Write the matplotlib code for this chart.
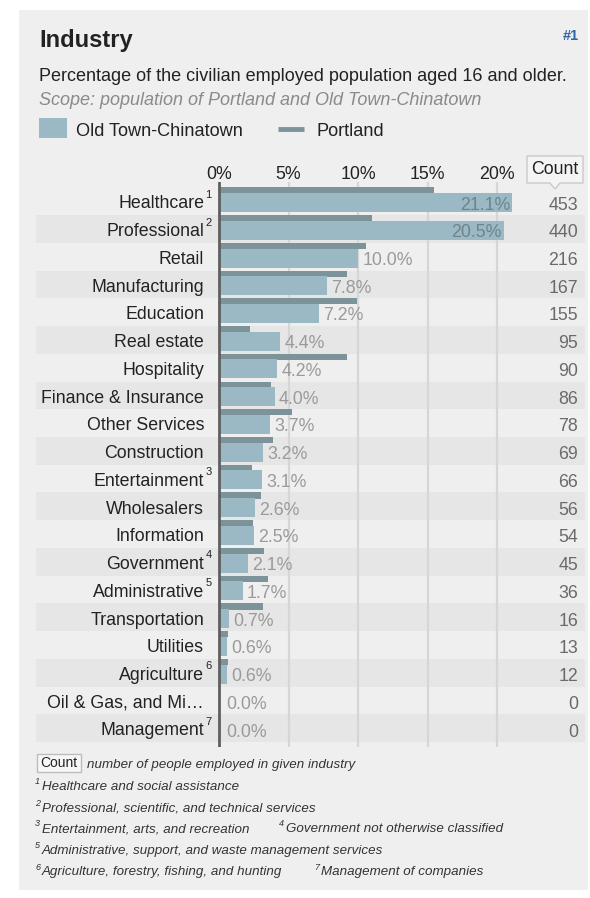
import matplotlib
matplotlib.use("Agg")
import matplotlib.pyplot as plt
from matplotlib.patches import Rectangle, Polygon

plt.rcParams['font.family'] = ['Liberation Sans', 'DejaVu Sans']

# ---------------- data ----------------
categories = ["Healthcare", "Professional", "Retail", "Manufacturing", "Education",
              "Real estate", "Hospitality", "Finance & Insurance", "Other Services",
              "Construction", "Entertainment", "Wholesalers", "Information",
              "Government", "Administrative", "Transportation", "Utilities",
              "Agriculture", "Oil & Gas, and Mi\u2026", "Management"]
footnote_marks = ["1", "2", "", "", "", "", "", "", "", "", "3", "", "", "4", "5",
                  "", "", "6", "", "7"]
oldtown_pct = [21.1, 20.5, 10.0, 7.8, 7.2, 4.4, 4.2, 4.0, 3.7, 3.2, 3.1, 2.6, 2.5,
               2.1, 1.7, 0.7, 0.6, 0.6, 0.0, 0.0]
portland_pct = [15.5, 11.0, 10.55, 9.2, 9.9, 2.2, 9.2, 3.75, 5.25, 3.85, 2.35, 3.05,
                2.45, 3.25, 3.55, 3.15, 0.65, 0.65, 0.0, 0.0]
counts = [453, 440, 216, 167, 155, 95, 90, 86, 78, 69, 66, 56, 54, 45, 36, 16, 13,
          12, 0, 0]
x_ticks = [0, 5, 10, 15, 20]
x_tick_labels = ["0%", "5%", "10%", "15%", "20%"]
footnotes = [("1", "Healthcare and social assistance"),
             ("2", "Professional, scientific, and technical services"),
             ("3", "Entertainment, arts, and recreation"),
             ("4", "Government not otherwise classified"),
             ("5", "Administrative, support, and waste management services"),
             ("6", "Agriculture, forestry, fishing, and hunting"),
             ("7", "Management of companies")]

# ---------------- style ----------------
W, H = 590, 898
BG = "#efefef"
BAND = "#e6e6e6"
OT_COLOR = "#9bb9c4"
PDX_COLOR = "#7b9399"
TXT = "#222222"
ROWFS = 12.8

fig = plt.figure(figsize=(W / 100, H / 100), dpi=100)
fig.patch.set_facecolor("white")

# overlay axes in pixel coordinates for panel / titles / footnotes
bg = fig.add_axes([0, 0, 1, 1])
bg.set_xlim(0, W)
bg.set_ylim(H, 0)
bg.axis("off")
bg.add_patch(Rectangle((19, 10), 569, 880, facecolor=BG, edgecolor="none", zorder=0))

bg.text(39, 46.5, "Industry", fontsize=17, fontweight="bold", color=TXT, va="baseline")
bg.text(579, 40, "#1", fontsize=10.5, fontweight="bold", color="#2f66a8",
        va="baseline", ha="right")
bg.text(39, 81, "Percentage of the civilian employed population aged 16 and older.",
        fontsize=13, color=TXT, va="baseline")
bg.text(39, 105, "Scope: population of Portland and Old Town-Chinatown",
        fontsize=13, color="#8a8a8a", style="italic", va="baseline")

# legend
bg.add_patch(Rectangle((39, 118), 28, 20, facecolor=OT_COLOR, edgecolor="none"))
bg.text(76, 136, "Old Town-Chinatown", fontsize=13.1, color=TXT, va="baseline")
bg.plot([278, 304], [129, 129], color=PDX_COLOR, lw=3.5, solid_capstyle="butt")
bg.text(316, 136, "Portland", fontsize=13.1, color=TXT, va="baseline")

# Count header callout
bg.add_patch(Polygon([(527, 156), (583, 156), (583, 183), (560, 183), (555, 189),
                      (550, 183), (527, 183)], closed=True, facecolor="#f4f4f4",
                     edgecolor="#c9c9c9", lw=1, zorder=2))
bg.text(555, 170, "Count", fontsize=ROWFS, color=TXT, ha="center", va="center", zorder=3)

# ---------------- chart axes ----------------
PX_PER_PCT = (497 - 219) / 20.0
ROW = 27.74
x0_px, x1_px = 36, 585
y0_px, y1_px = 182, 747
row0_center = 201.2

ax = fig.add_axes([x0_px / W, 1 - y1_px / H, (x1_px - x0_px) / W, (y1_px - y0_px) / H])
ax.set_facecolor("none")
ax.set_xlim((x0_px - 219) / PX_PER_PCT, (x1_px - 219) / PX_PER_PCT)
ax.set_ylim((y1_px - row0_center) / ROW, (y0_px - row0_center) / ROW)
for s in ax.spines.values():
    s.set_visible(False)
ax.set_yticks([])
ax.xaxis.tick_top()
ax.set_xticks(x_ticks, x_tick_labels)
ax.tick_params(axis="x", length=0, pad=-0.5, labelsize=ROWFS, labelcolor=TXT)

n = len(categories)
for i in range(n):
    if i % 2 == 1:
        ax.axhspan(i - 0.5, i + 0.5, color=BAND, lw=0, zorder=0)

for t in x_ticks[1:]:
    ax.axvline(t, color="#d6d6d6", lw=1.6, zorder=1)

ys = list(range(n))
ax.barh([y - 0.39 for y in ys], portland_pct, height=0.22, color=PDX_COLOR,
        lw=0, zorder=2)
ax.barh([y + 0.048 for y in ys], oldtown_pct, height=0.685, color=OT_COLOR,
        lw=0, zorder=3)
ax.axvline(0, color="#5f5f5f", lw=2, zorder=4)

lab_x = (204 - 219) / PX_PER_PCT
sup_x = (205.5 - 219) / PX_PER_PCT
cnt_x = (578 - 219) / PX_PER_PCT
for i, (cat, mark, v, c) in enumerate(zip(categories, footnote_marks, oldtown_pct, counts)):
    ax.text(lab_x, i + 0.26, cat, fontsize=ROWFS, color=TXT, ha="right", va="baseline")
    if mark:
        ax.text(sup_x, i - 0.12, mark, fontsize=8, color=TXT, ha="left", va="baseline")
    if v >= 15:
        ax.text(v - 0.15, i + 0.3, f"{v:.1f}%", fontsize=ROWFS, color="#6f838b",
                ha="right", va="baseline", zorder=5)
    else:
        ax.text(max(v, 0.2) + 0.3, i + 0.3, f"{v:.1f}%", fontsize=ROWFS,
                color="#9a9a9a", ha="left", va="baseline", zorder=5)
    ax.text(cnt_x, i + 0.3, f"{c}", fontsize=ROWFS, color="#6a6a6a", ha="right",
            va="baseline")

# ---------------- footnotes ----------------
FN = 9.6
bg.add_patch(Rectangle((37, 754), 44, 18, facecolor="#f7f7f7", edgecolor="#bdbdbd",
                       lw=1))
bg.text(59, 763, "Count", fontsize=10, color=TXT, ha="center", va="center")
bg.text(87, 768, "number of people employed in given industry", fontsize=FN,
        style="italic", color="#333333", va="baseline")

fn_pos = {"1": (40, 42, 790), "2": (40, 42, 811.5), "3": (40, 42, 832.5),
          "4": (284, 286, 832.5), "5": (40, 42, 854), "6": (40, 42, 875.5),
          "7": (319, 321, 875.5)}
for mark, text in footnotes:
    sx, tx, yb = fn_pos[mark]
    bg.text(sx, yb - 6, mark, fontsize=6.5, style="italic", color="#333333",
            ha="right", va="baseline")
    bg.text(tx, yb, text, fontsize=FN, style="italic", color="#333333", va="baseline")

fig.savefig("out.png", dpi=100, facecolor="white")
